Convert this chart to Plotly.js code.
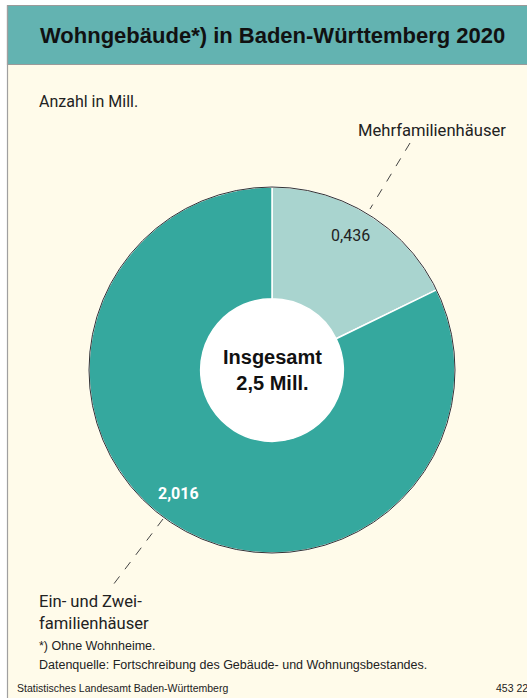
<!DOCTYPE html>
<html><head><meta charset="utf-8">
<script src="https://cdn.plot.ly/plotly-3.0.1.min.js"></script>
<style>html,body{margin:0;padding:0;background:#fff}#chart{width:527px;height:698px}</style>
</head><body><div id="chart"></div>
<script>
const categories = ["Mehrfamilienhäuser", "Ein- und Zwei-<br>familienhäuser"];
const values = [0.436, 2.016];
const totalLabel = ["Insgesamt", "2,5 Mill."];
const colors = ["#a9d4cf", "#35a89e"];

const W = 527, H = 698;
const px = x => x / W;
const py = y => 1 - y / H;
const cx = 272, cy = 370, R = 183;
const fmt = v => v.toFixed(3).replace('.', ',');

const trace = {
  type: 'pie',
  values: values,
  labels: categories,
  marker: {colors: colors, line: {color: '#ffffff', width: 1.5}},
  hole: 0.39,
  sort: false,
  direction: 'clockwise',
  rotation: 0,
  textinfo: 'none',
  hoverinfo: 'label+value',
  showlegend: false,
  domain: {x: [px(cx - R), px(cx + R)], y: [py(cy + R), py(cy - R)]}
};

const ann = (x, y, text, size, opts) => Object.assign({
  xref: 'paper', yref: 'paper', x: px(x), y: py(y), text: text, showarrow: false,
  xanchor: 'left', yanchor: 'middle',
  font: {family: 'Roboto, sans-serif', size: size, color: '#222'}
}, opts || {});
const lib = (size, color) => ({family: 'Liberation Sans, Arial, sans-serif', size: size, color: color || '#222'});

const layout = {
  width: W, height: H,
  margin: {l: 0, r: 0, t: 0, b: 0},
  paper_bgcolor: '#fffbea',
  plot_bgcolor: '#fffbea',
  shapes: [
    {type: 'rect', xref: 'paper', yref: 'paper', x0: 0, x1: px(7), y0: 0, y1: 1, fillcolor: '#ffffff', line: {width: 0}, layer: 'below'},
    {type: 'rect', xref: 'paper', yref: 'paper', x0: 0, x1: 1, y0: py(5), y1: 1, fillcolor: '#ffffff', line: {width: 0}, layer: 'below'},
    {type: 'rect', xref: 'paper', yref: 'paper', x0: px(7.5), x1: px(530), y0: py(64.5), y1: py(5.5), fillcolor: '#63b3b1', line: {color: '#9a9a9a', width: 1.2}, layer: 'below'},
    {type: 'line', xref: 'paper', yref: 'paper', x0: px(7.5), x1: px(7.5), y0: 0, y1: py(5.5), line: {color: '#a0a0a0', width: 1.2}},
    {type: 'circle', xref: 'paper', yref: 'paper', x0: px(cx - 72), x1: px(cx + 72), y0: py(cy + 72), y1: py(cy - 72), fillcolor: '#ffffff', line: {width: 0}, layer: 'below'},
    {type: 'circle', xref: 'paper', yref: 'paper', x0: px(cx - R), x1: px(cx + R), y0: py(cy + R), y1: py(cy - R), line: {color: '#333333', width: 1}},
    {type: 'line', xref: 'paper', yref: 'paper', x0: px(410), y0: py(143), x1: px(370), y1: py(209), line: {color: '#444', width: 1, dash: 'dash'}},
    {type: 'line', xref: 'paper', yref: 'paper', x0: px(163), y0: py(519), x1: px(113), y1: py(585), line: {color: '#444', width: 1, dash: 'dash'}}
  ],
  annotations: [
    ann(272, 35, '<b>Wohngebäude*) in Baden-Württemberg 2020</b>', 22, {xanchor: 'center', font: lib(22, '#111')}),
    ann(37, 101, 'Anzahl in Mill.', 16),
    ann(356, 131, categories[0], 16.6),
    ann(350, 235, fmt(values[0]), 16, {xanchor: 'center'}),
    ann(178, 493, '<b>' + fmt(values[1]) + '</b>', 16, {xanchor: 'center', font: {family: 'Roboto, sans-serif', size: 16, color: '#ffffff'}}),
    ann(37, 612, categories[1], 16.6, {align: 'left'}),
    ann(272, 370, '<b>' + totalLabel.join('<br>') + '</b>', 20, {xanchor: 'center', font: lib(20, '#111')}),
    ann(37, 646, '*) Ohne Wohnheime.', 12.5, {font: lib(12.5)}),
    ann(37, 665, 'Datenquelle: Fortschreibung des Gebäude- und Wohnungsbestandes.', 12.5, {font: lib(12.5)}),
    ann(15, 688, 'Statistisches Landesamt Baden-Württemberg', 10.5, {font: lib(10.5)}),
    ann(494, 688, '453 22', 10.5, {font: lib(10.5)})
  ]
};

Plotly.newPlot('chart', [trace], layout, {displayModeBar: false, staticPlot: true});
</script></body></html>
